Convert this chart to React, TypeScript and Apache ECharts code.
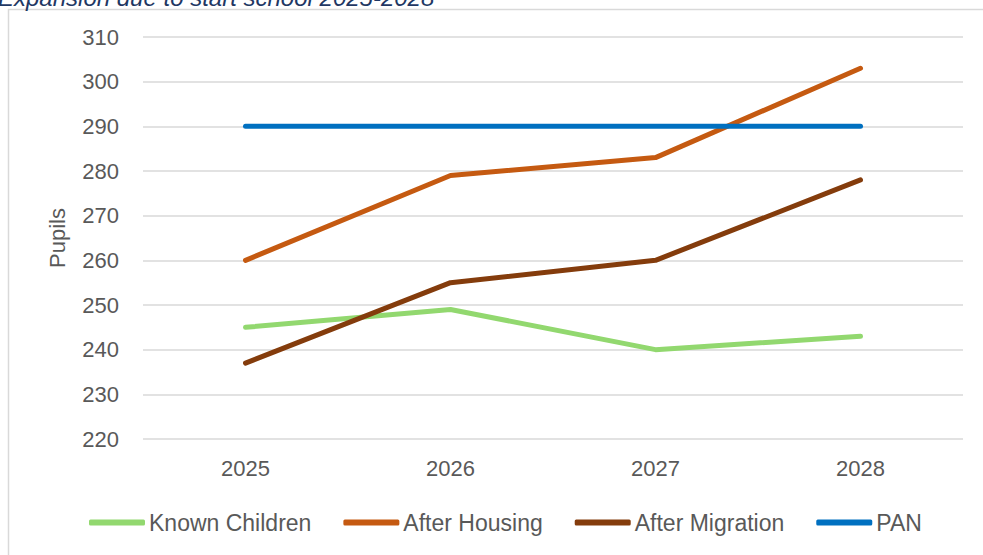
import React, { useEffect, useRef } from "react";
import * as echarts from "echarts";

const years = ["2025", "2026", "2027", "2028"];
const knownChildren = [245, 249, 240, 243];
const afterHousing = [260, 279, 283, 303];
const afterMigration = [237, 255, 260, 278];
const pan = [290, 290, 290, 290];
const titleText = "Expansion due to start school 2025-2028";

export default function App() {
  const ref = useRef<HTMLDivElement>(null);
  useEffect(() => {
    if (!ref.current) return;
    const chart = echarts.init(ref.current, null, { renderer: "svg" });
    const font = "Liberation Sans, Arial, sans-serif";
    const mk = (name: string, data: number[], color: string) => ({
      name,
      type: "line",
      data,
      showSymbol: false,
      symbol: "none",
      lineStyle: { color, width: 5, cap: "round", join: "round" },
      itemStyle: { color },
    });
    chart.setOption({
      animation: false,
      backgroundColor: "#ffffff",
      graphic: [
        {
          type: "rect",
          shape: { x: 8.5, y: 9.5, width: 1100, height: 700 },
          style: { fill: "none", stroke: "#d9d9d9", lineWidth: 1.5 },
          silent: true,
          z: -1,
        },
        {
          type: "text",
          x: -2,
          y: 9,
          style: {
            text: titleText,
            font: "italic 24px Liberation Sans, sans-serif",
            fill: "#1F3864",
            verticalAlign: "bottom",
          },
        },
      ],
      grid: { left: 143, right: 20, top: 37, bottom: 116 },
      legend: {
        top: 511,
        left: 89,
        padding: 0,
        itemWidth: 56,
        itemHeight: 6,
        itemGap: 32,
        icon: "roundRect",
        textStyle: { fontSize: 23, color: "#595959", fontFamily: font, padding: [0, 0, 0, -1] },
        data: ["Known Children", "After Housing", "After Migration", "PAN"],
      },
      xAxis: {
        type: "category",
        data: years,
        boundaryGap: true,
        axisLine: { show: false },
        axisTick: { show: false },
        axisLabel: { fontSize: 22, color: "#595959", margin: 18, fontFamily: font },
      },
      yAxis: {
        type: "value",
        min: 220,
        max: 310,
        interval: 10,
        name: "Pupils",
        nameLocation: "middle",
        nameGap: 75,
        nameRotate: 90,
        nameTextStyle: { fontSize: 22, color: "#595959", fontFamily: font },
        axisLabel: { fontSize: 22, color: "#595959", margin: 24, fontFamily: font },
        splitLine: { lineStyle: { color: "#d9d9d9", width: 1.5 } },
        axisLine: { show: false },
        axisTick: { show: false },
      },
      series: [
        mk("Known Children", knownChildren, "#92D86F"),
        mk("After Housing", afterHousing, "#C55A11"),
        mk("After Migration", afterMigration, "#843C0C"),
        mk("PAN", pan, "#0070C0"),
      ],
    });
    return () => chart.dispose();
  }, []);
  return <div ref={ref} style={{ position: "absolute", left: 0, top: 0, width: 983, height: 555 }} />;
}
